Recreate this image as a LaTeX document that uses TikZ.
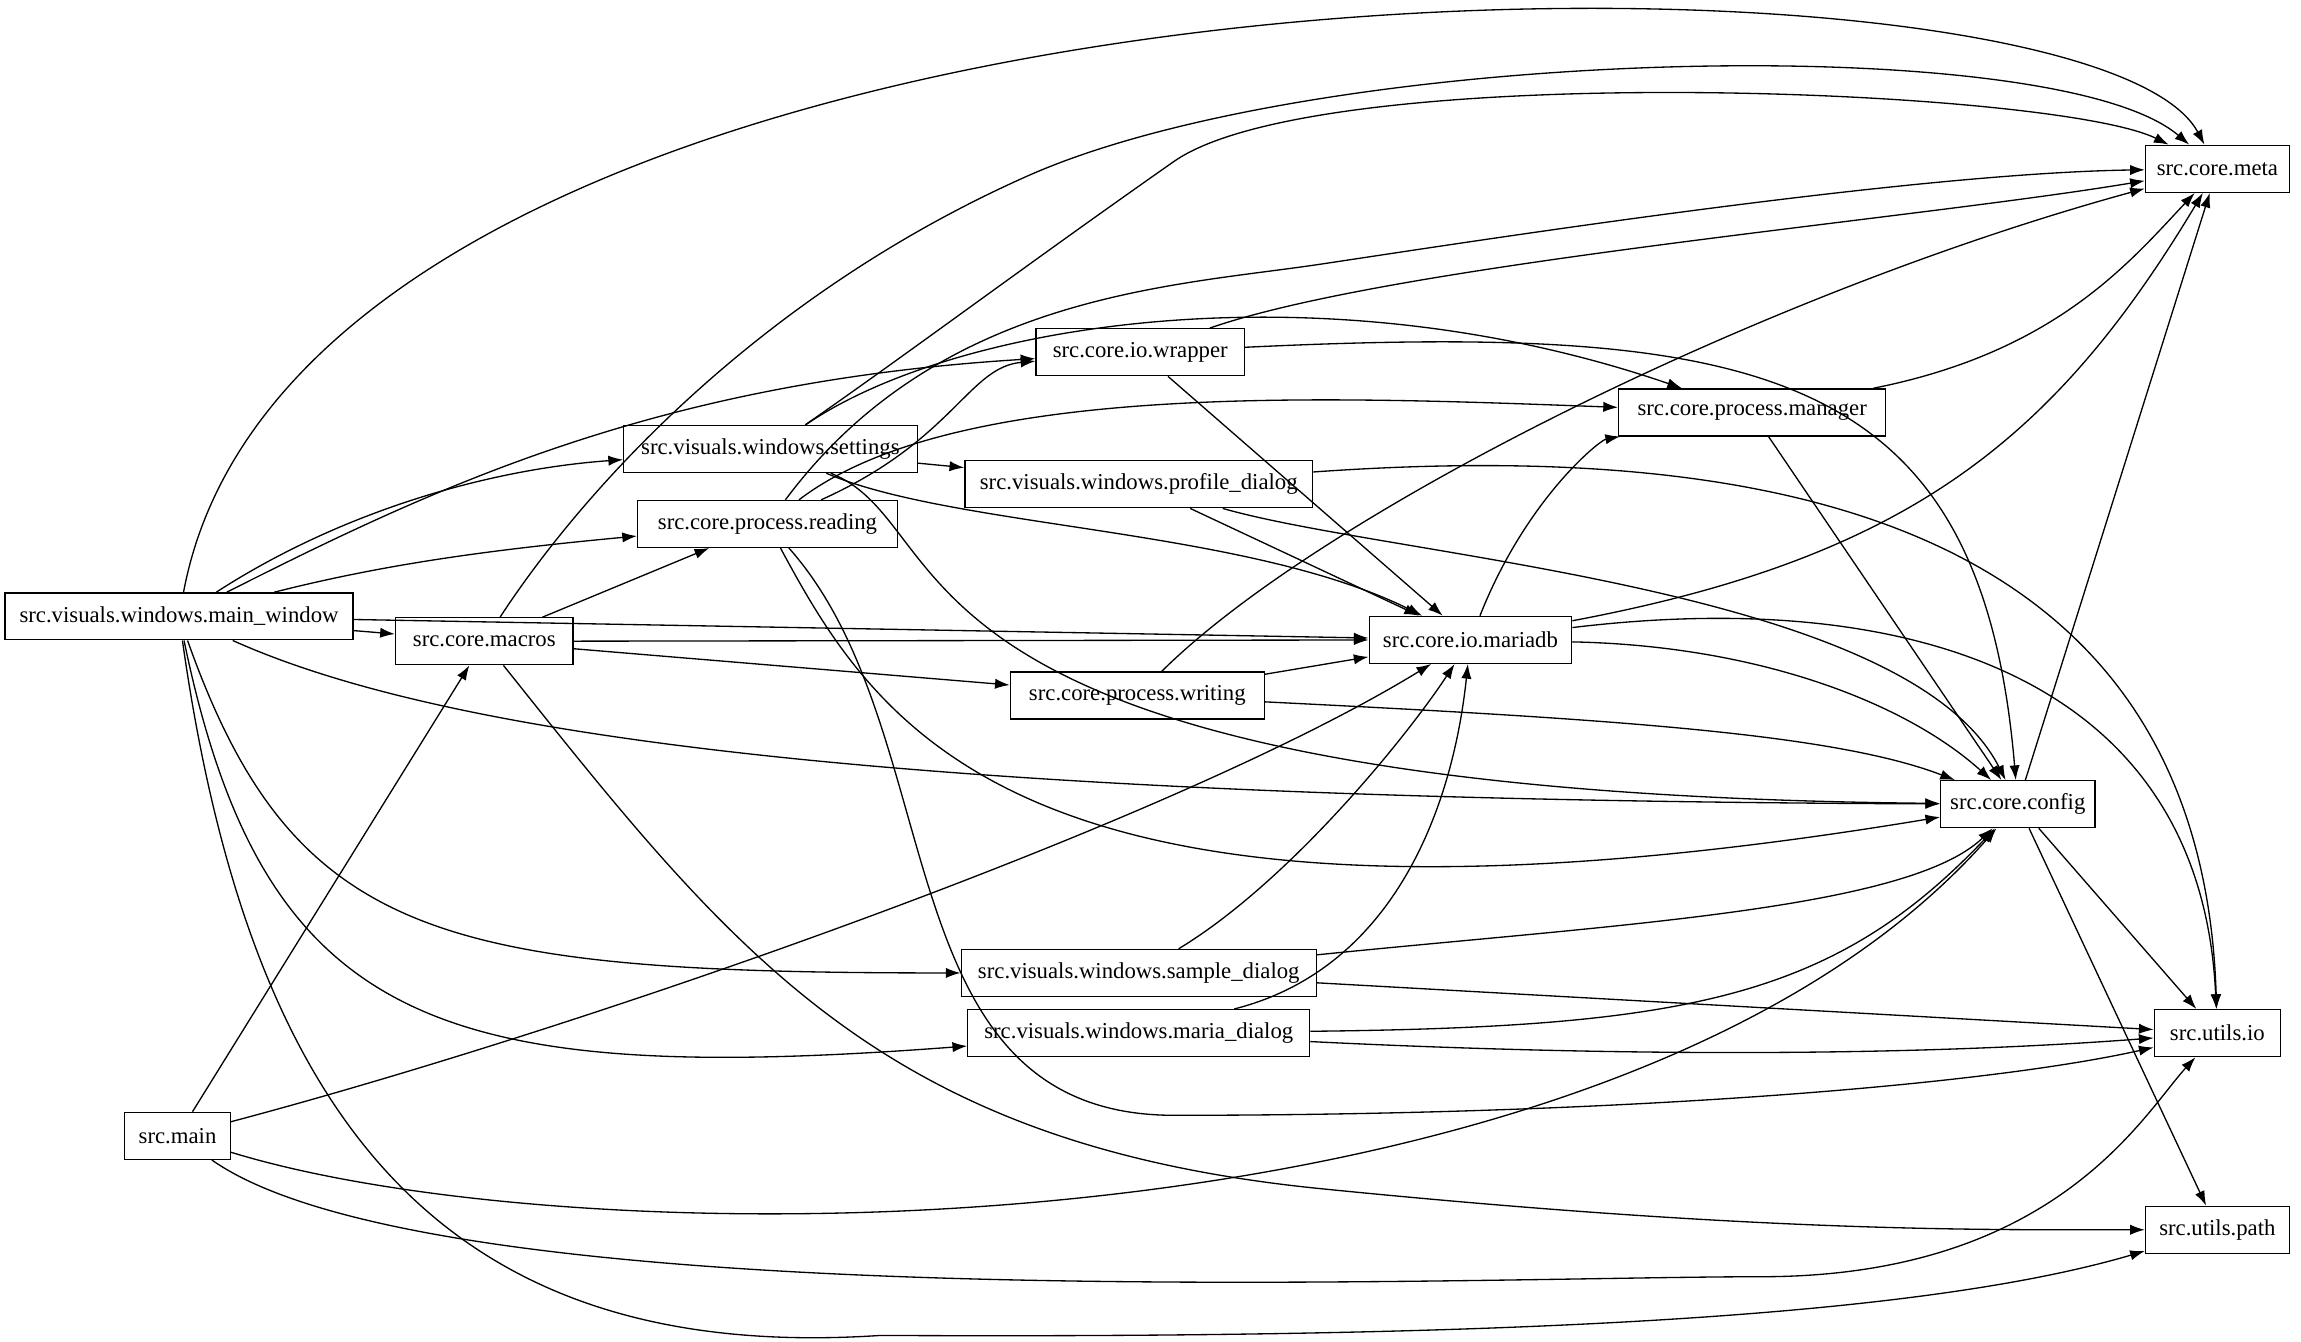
\documentclass[tikz,border=0pt]{standalone}
\usepackage{fontspec}
\setmainfont{Liberation Serif}
\usetikzlibrary{arrows.meta}
\begin{document}
\begin{tikzpicture}[x=1pt,y=-1pt,
 n/.style={draw,line width=0.9pt,minimum height=32pt,inner xsep=6pt,font=\fontsize{15.5}{17}\selectfont},
 e/.style={line width=0.9pt,-{Latex[length=10pt,width=7pt]}}]
\useasboundingbox (0,0) rectangle (1568,914);
\node[n,minimum width=237pt] (mw) at (122,420) {src.visuals.windows.main\_window};
\node[n,minimum width=121pt] (mac) at (330,437) {src.core.macros};
\node[n,minimum width=200pt] (set) at (525,306) {src.visuals.windows.settings};
\node[n,minimum width=177pt] (rd) at (523,357) {src.core.process.reading};
\node[n,minimum width=142pt] (wr) at (777,240) {src.core.io.wrapper};
\node[n,minimum width=237pt] (pd) at (776,330) {src.visuals.windows.profile\_dialog};
\node[n,minimum width=182pt] (pm) at (1194,281) {src.core.process.manager};
\node[n,minimum width=138pt] (db) at (1002,436) {src.core.io.mariadb};
\node[n,minimum width=173pt] (wt) at (775,474) {src.core.process.writing};
\node[n,minimum width=98pt] (meta) at (1511,115) {src.core.meta};
\node[n,minimum width=105pt] (cfg) at (1375,548) {src.core.config};
\node[n,minimum width=242pt] (sd) at (776,663) {src.visuals.windows.sample\_dialog};
\node[n,minimum width=233pt] (md) at (776,704) {src.visuals.windows.maria\_dialog};
\node[n,minimum width=86pt] (uio) at (1511,704) {src.utils.io};
\node[n,minimum width=72pt] (main) at (121,774) {src.main};
\node[n,minimum width=98pt] (up) at (1511,838) {src.utils.path};
% main_window
\draw[e] (mw) .. controls (210,-50) and (1420,-55) .. (meta);
\draw[e] (mw) .. controls (300,330) and (450,260) .. (wr);
\draw[e] (mw) .. controls (230,350) and (330,320) .. (set);
\draw[e] (mw) .. controls (260,385) and (330,375) .. (rd);
\draw[e] (mw) -- (db);
\draw[e] (mw) -- (mac);
\draw[e] (mw) .. controls (300,500) and (600,545) .. (cfg);
\draw[e] (mw) .. controls (200,640) and (300,663) .. (sd);
\draw[e] (mw) .. controls (180,700) and (300,740) .. (md);
\draw[e] (mw) .. controls (170,760) and (300,930) .. (600,910) .. controls (1000,912) and (1300,900) .. (up);
% macros
\draw[e] (mac) .. controls (400,330) and (520,200) .. (700,120) .. controls (900,31) and (1400,20) .. (meta);
\draw[e] (mac) -- (rd);
\draw[e] (mac) -- (db);
\draw[e] (mac) -- (wt);
\draw[e] (mac) .. controls (500,650) and (600,780) .. (900,810) .. controls (1200,840) and (1350,838) .. (up);
% settings
\draw[e] (set) .. controls (620,240) and (700,180) .. (800,110) .. controls (900,40) and (1400,60) .. (meta);
\draw[e] (set) .. controls (650,220) and (900,180) .. (pm);
\draw[e] (set) -- (pd);
\draw[e] (set) .. controls (650,360) and (850,360) .. (db);
\draw[e] (set) .. controls (660,360) and (580,540) .. (cfg);
% reading
\draw[e] (rd) .. controls (650,300) and (660,250) .. (wr);
\draw[e] (rd) .. controls (640,200) and (800,195) .. (900,180) .. controls (1000,165) and (1300,118) .. (meta);
\draw[e] (rd) .. controls (650,260) and (900,270) .. (pm);
\draw[e] (rd) .. controls (600,500) and (700,660) .. (cfg);
\draw[e] (rd) .. controls (650,500) and (600,760) .. (800,760) .. controls (1100,760) and (1350,740) .. (uio);
% wrapper
\draw[e] (wr) .. controls (950,180) and (1300,150) .. (meta);
\draw[e] (wr) .. controls (1200,220) and (1350,250) .. (cfg);
\draw[e] (wr) -- (db);
% profile dialog
\draw[e] (pd) -- (db);
\draw[e] (pd) .. controls (950,380) and (1300,400) .. (cfg);
\draw[e] (pd) .. controls (1200,300) and (1500,350) .. (uio);
% manager
\draw[e] (pm) .. controls (1400,240) and (1450,180) .. (meta);
\draw[e] (pm) -- (cfg);
% mariadb
\draw[e] (db) .. controls (1040,340) and (1090,300) .. (pm);
\draw[e] (db) .. controls (1300,380) and (1400,300) .. (meta);
\draw[e] (db) .. controls (1200,440) and (1300,480) .. (cfg);
\draw[e] (db) .. controls (1300,400) and (1500,460) .. (uio);
% writing
\draw[e] (wt) .. controls (900,350) and (1200,200) .. (meta);
\draw[e] (wt) -- (db);
\draw[e] (wt) .. controls (1100,490) and (1250,500) .. (cfg);
% config
\draw[e] (cfg) -- (meta);
\draw[e] (cfg) -- (uio);
\draw[e] (cfg) -- (up);
% sample
\draw[e] (sd) .. controls (880,600) and (960,500) .. (db);
\draw[e] (sd) .. controls (1100,630) and (1300,620) .. (cfg);
\draw[e] (sd) -- (uio);
% maria
\draw[e] (md) .. controls (950,660) and (990,550) .. (db);
\draw[e] (md) .. controls (1150,700) and (1250,680) .. (cfg);
\draw[e] (md) .. controls (1100,720) and (1300,720) .. (uio);
% main
\draw[e] (main) -- (mac);
\draw[e] (main) .. controls (400,700) and (800,560) .. (db);
\draw[e] (main) .. controls (400,860) and (1100,860) .. (cfg);
\draw[e] (main) .. controls (300,900) and (1000,870) .. (1200,870) .. controls (1400,870) and (1460,760) .. (uio);
\end{tikzpicture}
\end{document}
